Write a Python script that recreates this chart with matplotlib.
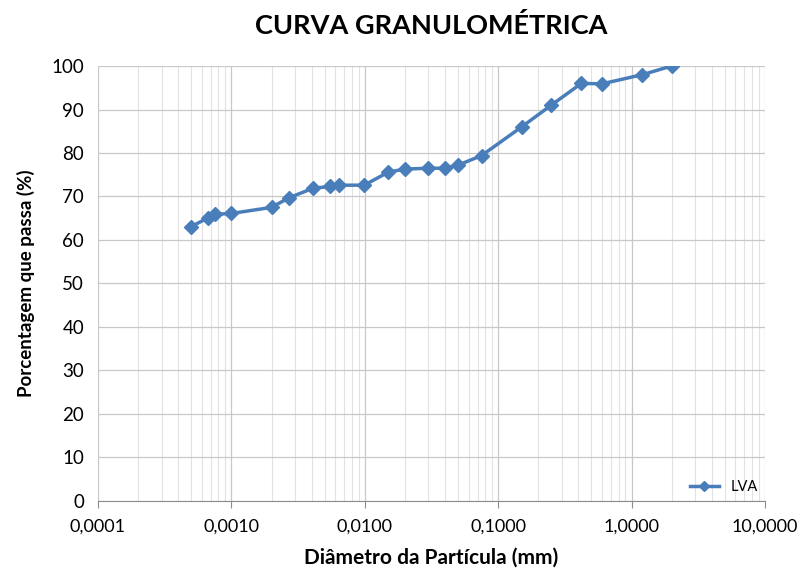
import matplotlib
matplotlib.use("Agg")
import matplotlib.pyplot as plt
from matplotlib.ticker import FixedLocator, LogLocator, FuncFormatter, NullFormatter

plt.rcParams['font.family'] = ['Lato', 'DejaVu Sans']

# diameters (mm) and percent passing
diametro = [0.0005, 0.00067, 0.00075, 0.001, 0.002, 0.0027, 0.0041, 0.0055, 0.0064, 0.0099,
            0.015, 0.02, 0.03, 0.04, 0.05, 0.075, 0.15, 0.25, 0.42, 0.6, 1.2, 2.0]
passa = [63.1, 65.1, 65.9, 66.1, 67.5, 69.7, 71.9, 72.3, 72.6, 72.6,
         75.6, 76.3, 76.5, 76.5, 77.2, 79.4, 86.0, 91.0, 96.0, 95.9, 98.0, 100.0]
x_ticks = [0.0001, 0.001, 0.01, 0.1, 1, 10]
y_ticks = list(range(0, 101, 10))

fig = plt.figure(figsize=(7.98, 5.73), dpi=100)
ax = fig.add_axes([0.1228, 0.1257, 0.8358, 0.7591])

ax.plot(diametro, passa, color='#4a7ebb', linewidth=2.5, marker='D', markersize=7,
        label='LVA', zorder=3)

ax.set_xscale('log')
ax.set_xlim(0.0001, 10)
ax.set_ylim(0, 100)
ax.xaxis.set_major_locator(FixedLocator(x_ticks))
ax.xaxis.set_minor_locator(LogLocator(base=10, subs=range(2, 10)))
ax.xaxis.set_minor_formatter(NullFormatter())
ax.xaxis.set_major_formatter(FuncFormatter(lambda v, p: f"{v:.4f}".replace('.', ',')))
ax.set_yticks(y_ticks)

ax.grid(True, which='major', color='#c8c8c8', linewidth=0.9)
ax.grid(True, which='minor', axis='x', color='#e2e2e2', linewidth=0.8)
ax.set_axisbelow(True)

for s in ['top', 'right', 'left']:
    ax.spines[s].set_visible(False)
ax.spines['bottom'].set_color('#8c8c8c')
ax.tick_params(axis='x', which='major', direction='out', length=5, color='#8c8c8c',
               labelsize=13, pad=8)
ax.tick_params(axis='x', which='minor', length=0)
ax.tick_params(axis='y', length=0, labelsize=13.5, pad=10)

ax.set_xlabel('Diâmetro da Partícula (mm)', fontsize=15, fontweight='bold', labelpad=9)
ax.set_ylabel('Porcentagem que passa (%)', fontsize=13.5, fontweight='bold', labelpad=12)
fig.text(0.54, 0.955, 'CURVA GRANULOMÉTRICA', fontsize=19.5, fontweight='bold',
         ha='center', va='center')

ax.legend(loc='lower right', frameon=False, fontsize=10.5, handlelength=2,
          markerscale=0.75, borderaxespad=0.1)

fig.savefig('out.png', dpi=100)
